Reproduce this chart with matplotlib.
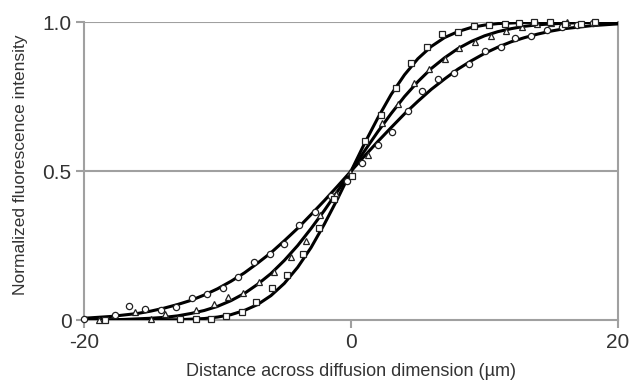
import numpy as np
import matplotlib
matplotlib.use("Agg")
import matplotlib.pyplot as plt

plt.rcParams['font.family'] = ['Liberation Sans', 'DejaVu Sans']

# measured points (µm, normalized intensity)
circle_x = [-20.0, -17.7, -16.6, -15.4, -14.2, -13.1, -11.9, -10.8, -9.6, -8.5, -7.3,
            -6.1, -5.0, -3.9, -2.7, -1.5, -0.3, 0.8, 2.0, 3.1, 4.3, 5.3, 6.5, 7.7,
            8.8, 10.0, 11.2, 12.3, 13.5, 14.7, 15.8, 16.9, 18.1]
circle_y = [0.005, 0.017, 0.047, 0.036, 0.035, 0.045, 0.075, 0.087, 0.108, 0.143, 0.194,
            0.221, 0.256, 0.318, 0.363, 0.416, 0.466, 0.526, 0.587, 0.632, 0.701, 0.769,
            0.808, 0.828, 0.859, 0.904, 0.915, 0.945, 0.953, 0.973, 0.985, 0.990, 0.996]

triangle_x = [-18.9, -16.2, -15.0, -13.9, -11.6, -10.3, -9.2, -8.1, -6.9, -5.8, -4.5,
              -3.4, -2.3, -1.1, -0.1, 1.3, 2.3, 3.5, 4.7, 5.8, 7.0, 8.1, 9.3, 10.5,
              11.6, 12.8, 13.9, 15.0, 16.2]
triangle_y = [0.0, 0.026, 0.002, 0.020, 0.034, 0.053, 0.076, 0.090, 0.129, 0.160, 0.212,
              0.265, 0.352, 0.423, 0.498, 0.554, 0.660, 0.725, 0.794, 0.841, 0.875, 0.912,
              0.934, 0.953, 0.970, 0.985, 0.992, 0.998, 1.0]

square_x = [-18.4, -12.8, -11.6, -10.5, -9.4, -8.2, -7.1, -5.9, -4.8, -3.6, -2.4, -1.3,
            0.05, 1.05, 2.25, 3.4, 4.5, 5.7, 6.8, 8.0, 9.2, 10.3, 11.5, 12.6, 13.7, 14.9,
            16.0, 17.2, 18.3]
square_y = [0.0, 0.002, 0.002, 0.002, 0.014, 0.028, 0.061, 0.106, 0.151, 0.220, 0.308,
            0.405, 0.483, 0.600, 0.688, 0.780, 0.863, 0.917, 0.960, 0.967, 0.987, 0.990,
            0.995, 0.998, 1.0, 1.0, 0.995, 0.995, 1.0]

# fitted curves at 1 µm steps
fit_x = list(range(-20, 21))
fit_circle = [0.006, 0.009, 0.012, 0.017, 0.022, 0.030, 0.040, 0.052, 0.066, 0.084,
              0.105, 0.130, 0.158, 0.191, 0.226, 0.266, 0.308, 0.354, 0.401, 0.450,
              0.500, 0.550, 0.599, 0.646, 0.692, 0.734, 0.774, 0.809, 0.842, 0.870,
              0.895, 0.916, 0.934, 0.948, 0.960, 0.970, 0.978, 0.983, 0.988, 0.991, 0.994]
fit_triangle = [0.000, 0.001, 0.001, 0.002, 0.004, 0.006, 0.009, 0.014, 0.022, 0.032,
                0.046, 0.065, 0.089, 0.120, 0.156, 0.200, 0.250, 0.307, 0.368, 0.433,
                0.500, 0.567, 0.632, 0.693, 0.750, 0.800, 0.844, 0.880, 0.911, 0.935,
                0.954, 0.968, 0.978, 0.986, 0.991, 0.994, 0.996, 0.998, 0.999, 0.999, 1.000]
fit_square = [0.000, 0.000, 0.000, 0.000, 0.000, 0.000, 0.001, 0.001, 0.003, 0.005,
              0.010, 0.018, 0.032, 0.052, 0.082, 0.123, 0.177, 0.243, 0.322, 0.408,
              0.500, 0.592, 0.678, 0.757, 0.823, 0.877, 0.918, 0.948, 0.968, 0.982,
              0.990, 0.995, 0.997, 0.999, 0.999, 1.000, 1.000, 1.000, 1.000, 1.000, 1.000]

grey = '#a0a0a0'
txt = '#333333'

fig = plt.figure(figsize=(6.32, 3.81), dpi=100)
ax = fig.add_axes([0.133, 0.160, 0.845, 0.782])

ax.axhline(0.5, color=grey, lw=1.5, zorder=1)
ax.axhline(1.0, color=grey, lw=1.5, zorder=1)

for fx in (fit_circle, fit_triangle, fit_square):
    ax.plot(fit_x, fx, color='black', lw=2.2, zorder=3)

mk = dict(mfc='white', mec='#222222', mew=0.9, ls='none', zorder=4, clip_on=False)
ax.plot(circle_x, circle_y, marker='o', ms=4.5, **mk)
ax.plot(triangle_x, triangle_y, marker='^', ms=4.5, **mk)
ax.plot(square_x, square_y, marker='s', ms=4.0, **mk)

ax.set_xlim(-20, 20)
ax.set_ylim(0, 1.0)
ax.set_xticks([-20, 0, 20])
ax.set_xticklabels(['-20', '0', '20'])
ax.set_yticks([0, 0.5, 1.0])
ax.set_yticklabels(['0', '0.5', '1.0'])

for s in ('left', 'bottom', 'right'):
    ax.spines[s].set_color(grey)
    ax.spines[s].set_linewidth(1.5)
ax.spines['top'].set_visible(False)

ax.tick_params(axis='both', color=grey, width=1.5, length=6, labelsize=15,
               labelcolor=txt, direction='out', pad=3)

ax.set_xlabel('Distance across diffusion dimension (µm)', fontsize=13, color=txt, labelpad=8)
ax.set_ylabel('Normalized fluorescence intensity', fontsize=12.5, color=txt, labelpad=12)
ax.yaxis.set_label_coords(-0.105, 0.52)

fig.savefig('out.png', dpi=100)
